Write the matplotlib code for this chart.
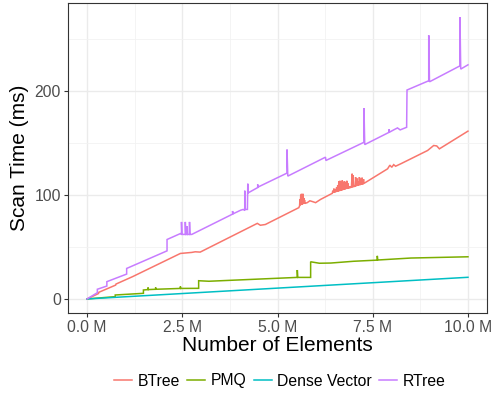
import numpy as np
import matplotlib.pyplot as plt
from matplotlib.ticker import FixedLocator, FuncFormatter

plt.rcParams['font.family'] = ['Liberation Sans', 'DejaVu Sans']

# data (x in millions of elements, y in ms)
btree_x = [0.00, 0.30, 0.31, 0.75, 0.76, 1.20, 2.45, 2.60, 2.75, 2.84, 2.97, 4.47, 4.55, 4.68,
           5.56, 5.58, 5.59, 5.60, 5.61, 5.62, 5.63, 5.64, 5.65, 5.66, 5.67, 5.68, 5.69, 5.70,
           5.71, 5.72, 5.74, 5.78, 5.85, 5.92, 6.00, 6.13,
           6.44, 6.45, 6.47, 6.48, 6.50, 6.51, 6.53, 6.55, 6.57, 6.58, 6.60, 6.61, 6.63, 6.64,
           6.66, 6.67, 6.69, 6.70, 6.72, 6.73, 6.75, 6.76, 6.78, 6.79, 6.81, 6.82, 6.84, 6.85,
           6.87, 6.88, 6.90, 6.92, 6.94, 6.96, 6.97, 6.98, 7.00, 7.02, 7.04, 7.05, 7.07, 7.08,
           7.10, 7.11, 7.13, 7.15, 7.17, 7.18, 7.20, 7.22, 7.24, 7.26, 7.27,
           7.89, 7.95, 8.00, 8.05, 8.10, 8.24, 8.94, 9.10, 9.18, 9.25, 10.00]
btree_y = [0.0, 5.2, 6.4, 13.3, 14.3, 21.5, 43.7, 44.2, 44.7, 45.3, 45.0, 72.6, 70.8, 71.5,
           87.7, 89.5, 96, 90, 100, 90.3, 101, 90.6, 99, 91, 101, 91.3, 97, 91.5,
           95, 91.8, 92.0, 92.5, 94.3, 93.5, 92.5, 95.6,
           101.5, 104, 102, 106, 102.3, 105, 102.6, 107, 103, 109, 103.3, 113, 103.6, 113.5,
           104, 112, 104.3, 113.9, 104.6, 112.5, 105, 113, 105.3, 112, 105.6, 113.5, 106, 111,
           106.3, 108, 106.6, 107.5, 107, 120.3, 107.2, 119, 107.5, 109, 108, 117, 108.3, 116,
           108.6, 113, 109, 117, 109.3, 115.5, 109.6, 116.5, 110, 115, 111.0,
           125.0, 128.5, 126.5, 129.0, 127.5, 129.9, 142.6, 147.4, 147.0, 144.2, 161.2]

pmq_x = [0.00, 0.74, 0.74, 1.48, 1.48, 1.60, 1.60, 1.61, 1.80, 1.80, 1.81, 2.45, 2.45, 2.46,
         2.93, 2.93, 3.20, 5.52, 5.52, 5.53, 5.87, 5.87, 6.10, 6.40, 7.00, 7.62, 7.62, 7.63,
         8.50, 10.00]
pmq_y = [0.0, 2.2, 3.8, 5.4, 8.6, 9.0, 11.0, 9.0, 9.3, 11.0, 9.3, 10.1, 12.0, 10.1,
         10.2, 17.5, 17.0, 20.7, 27.8, 20.7, 20.7, 35.7, 34.3, 34.5, 36.2, 37.3, 41.4, 37.4,
         39.3, 40.5]

dense_x = [0.0, 10.0]
dense_y = [0.0, 20.8]

rtree_x = [0.00, 0.27, 0.27, 0.52, 0.52, 1.04, 1.04, 2.10, 2.10, 2.45, 2.48, 2.48, 2.49,
           2.58, 2.58, 2.59, 2.63, 2.63, 2.64, 2.69, 2.69, 2.70, 2.75, 3.82, 3.82, 3.83,
           4.03, 4.10, 4.14, 4.14, 4.15, 4.21, 4.22, 4.22, 4.48, 4.48, 4.49, 5.25, 5.25, 5.27,
           6.26, 6.27, 7.27, 7.27, 7.29, 7.93, 7.93, 7.94, 8.05, 8.15, 8.22, 8.39, 8.40,
           8.97, 8.97, 8.99, 9.79, 9.79, 9.81, 10.00]
rtree_y = [0.0, 6.0, 9.3, 12.4, 16.6, 23.9, 29.3, 46.2, 57.1, 62.8, 62.0, 74.0, 62.0,
           62.0, 74.0, 62.0, 62.0, 70.0, 62.0, 62.0, 74.0, 62.0, 62.0, 81.5, 84.5, 81.7,
           85.2, 86.0, 85.0, 104.0, 86.0, 86.0, 110.7, 101.7, 107.0, 110.0, 107.5, 120.9, 143.5, 118.0,
           136.2, 133.0, 150.5, 183.4, 148.3, 160.1, 163.0, 160.2, 162.4, 164.3, 162.4, 164.9, 200.7,
           209.6, 253.3, 208.6, 223.9, 270.8, 220.8, 224.9]

series = [("BTree", btree_x, btree_y, "#F8766D"),
          ("PMQ", pmq_x, pmq_y, "#7CAE00"),
          ("Dense Vector", dense_x, dense_y, "#00BFC4"),
          ("RTree", rtree_x, rtree_y, "#C77CFF")]

fig = plt.figure(figsize=(4.94, 3.96), dpi=100)
ax = fig.add_axes([68 / 494, 1 - 313 / 396, 419 / 494, 310 / 396])

for name, xs, ys, col in series:
    ax.plot(xs, ys, color=col, lw=1.1, label=name, solid_joinstyle='miter')

ax.set_xlim(-0.5, 10.5)
ax.set_ylim(-13.5, 284.3)

ax.xaxis.set_major_locator(FixedLocator([0, 2.5, 5, 7.5, 10]))
ax.xaxis.set_minor_locator(FixedLocator([1.25, 3.75, 6.25, 8.75]))
ax.yaxis.set_major_locator(FixedLocator([0, 100, 200]))
ax.yaxis.set_minor_locator(FixedLocator([50, 150, 250]))
ax.xaxis.set_major_formatter(FuncFormatter(lambda v, p: f"{v:.1f} M"))

ax.grid(which='major', color='#EBEBEB', lw=1.0)
ax.grid(which='minor', color='#F2F2F2', lw=0.6)
ax.set_axisbelow(True)
for s in ax.spines.values():
    s.set_color('#333333')
    s.set_linewidth(0.8)

ax.tick_params(which='major', length=3, width=0.8, color='#333333',
               labelsize=11.3, labelcolor='#4D4D4D', pad=2)
ax.tick_params(which='minor', length=0)

ax.set_xlabel("Number of Elements", fontsize=15, labelpad=1)
ax.set_ylabel("Scan Time (ms)", fontsize=15, labelpad=4)

fig.legend(loc='center', bbox_to_anchor=(280 / 494, 1 - 381 / 396), ncol=4,
           frameon=False, fontsize=11.3, handlelength=1.15, handletextpad=0.35,
           columnspacing=0.45, borderaxespad=0)

fig.savefig("out.png", dpi=100)
